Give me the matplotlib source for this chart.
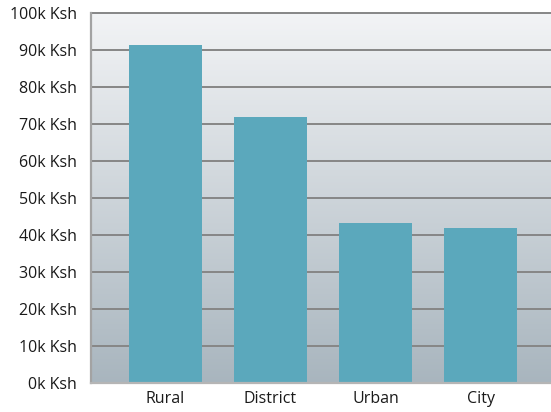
import matplotlib.pyplot as plt
import numpy as np

categories = ["Rural", "District", "Urban", "City"]
values = [91.4, 71.7, 43.1, 41.7]  # thousands of Ksh
yticks = [0, 10, 20, 30, 40, 50, 60, 70, 80, 90, 100]
ytick_labels = ["%dk Ksh" % v for v in yticks]

plt.rcParams['font.family'] = ['Open Sans', 'DejaVu Sans']

fig = plt.figure(figsize=(5.51, 4.12), dpi=100)
ax = fig.add_axes([91 / 551, 1 - 382.7 / 412, 1 - 91 / 551, (382.7 - 12.7) / 412])

# vertical gradient background
grad = np.linspace(0, 1, 256).reshape(-1, 1)
top = np.array([0.95, 0.955, 0.963])
bot = np.array([0.66, 0.71, 0.745])
img = top + (bot - top) * grad[:, :, None]
ax.imshow(img, extent=[0, 1, 0, 1], transform=ax.transAxes, aspect='auto',
          zorder=0, origin='upper')

x = np.arange(len(categories))
ax.bar(x, values, width=0.695, color='#5ba8bc', zorder=3)

ax.set_xlim(-0.71, 3.671)
ax.set_ylim(0, 100)
ax.set_yticks(yticks)
ax.set_yticklabels(ytick_labels)
ax.set_xticks(x)
ax.set_xticklabels(categories)
ax.tick_params(axis='both', length=0, labelsize=11.5, colors='#1a1a1a')
ax.tick_params(axis='y', pad=10)
ax.tick_params(axis='x', pad=6)

for v in yticks[1:]:
    ax.axhline(v, color='#868686', lw=1.4, zorder=2, clip_on=False)

ax.spines['right'].set_visible(False)
ax.spines['top'].set_visible(False)
ax.spines['left'].set_color('#a3a3a3')
ax.spines['left'].set_linewidth(1.6)
ax.spines['bottom'].set_color('#b5b5b5')
ax.spines['bottom'].set_linewidth(1.6)
ax.spines['bottom'].set_zorder(4)

fig.savefig("out.png", dpi=100)
